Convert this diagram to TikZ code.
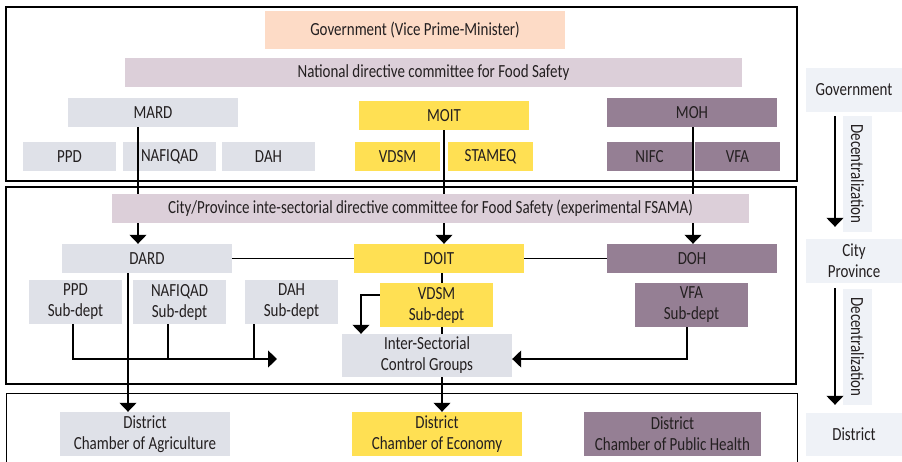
\documentclass[tikz,border=0pt]{standalone}
\usepackage{fontspec}
\setmainfont[FakeStretch=0.81]{Carlito}
\usetikzlibrary{arrows.meta}
\definecolor{peach}{HTML}{FDDBC6}
\definecolor{lav}{HTML}{DCCFD9}
\definecolor{grey}{HTML}{DFE1E8}
\definecolor{yel}{HTML}{FFE053}
\definecolor{mauve}{HTML}{957F94}
\definecolor{light}{HTML}{EFF2F7}
\definecolor{txt}{HTML}{231F20}
\newcommand\mkbox[7]{\node[box,fill=#6,minimum width={(#4-#2)*1pt},minimum height={(#5-#3)*1pt}] (#1) at ({(#2+#4)/2},{(#3+#5)/2}) {#7};}
\begin{document}
\begin{tikzpicture}[x=1pt,y=-1pt,
  box/.style={inner sep=0pt, align=center, text=txt, font=\fontsize{18.5}{21}\selectfont},
  conn/.style={line width=1.2pt, draw=black},
  arr/.style={conn, -{Triangle[width=17pt,length=9pt]}},
  frame/.style={line width=2.5pt, draw=black}]
\useasboundingbox (0,0) rectangle (902,461);
% frames
\draw[frame] (6,7) rectangle (797,181);
\draw[frame] (6,187) rectangle (796,384);
\draw[line width=1pt] (6,465) -- (6,393) -- (797,393) -- (797,465);
% national level
\mkbox{gov}{265}{11}{565}{49}{peach}{Government (Vice Prime-Minister)}
\mkbox{nat}{125}{58}{742}{87}{lav}{National directive committee for Food Safety}
\mkbox{mard}{68}{98}{238}{127}{grey}{MARD}
\mkbox{moit}{359}{101}{529}{130}{yel}{MOIT}
\mkbox{moh}{607}{98}{777}{127}{mauve}{MOH}
\mkbox{ppd}{23}{142}{116}{171}{grey}{PPD}
\mkbox{naf}{123}{142}{216}{171}{grey}{NAFIQAD}
\mkbox{dah}{222}{142}{315}{171}{grey}{DAH}
\mkbox{vdsm}{355}{142}{440}{171}{yel}{VDSM}
\mkbox{stameq}{448}{142}{533}{171}{yel}{STAMEQ}
\mkbox{nifc}{607}{142}{692}{171}{mauve}{NIFC}
\mkbox{vfa}{695}{142}{780}{171}{mauve}{VFA}
% city level
\mkbox{city}{112}{194}{749}{223}{lav}{City/Province inte-sectorial directive committee for Food Safety (experimental FSAMA)}
\mkbox{dard}{62}{244}{232}{273}{grey}{DARD}
\mkbox{doit}{354}{244}{524}{273}{yel}{DOIT}
\mkbox{doh}{607}{244}{777}{273}{mauve}{DOH}
\mkbox{ppds}{29}{280}{122}{324}{grey}{PPD\\Sub-dept}
\mkbox{nafs}{133}{280}{226}{324}{grey}{NAFIQAD\\Sub-dept}
\mkbox{dahs}{245}{280}{338}{324}{grey}{DAH\\Sub-dept}
\mkbox{vdsms}{380}{283}{493}{327}{yel}{VDSM\\Sub-dept}
\mkbox{vfas}{635}{283}{748}{327}{mauve}{VFA\\Sub-dept}
\mkbox{inter}{342}{334}{512}{377}{grey}{Inter-Sectorial\\Control Groups}
% district level
\mkbox{dagri}{60}{412}{230}{456}{grey}{District\\Chamber of Agriculture}
\mkbox{decon}{352}{412}{522}{456}{yel}{District\\Chamber of Economy}
\mkbox{dhealth}{584}{412}{761}{456}{mauve}{District\\Chamber of Public Health}
% right column
\mkbox{rgov}{806}{68}{902}{112}{light}{Government}
\mkbox{rcity}{806}{239}{902}{283}{light}{City\\Province}
\mkbox{rdist}{806}{413}{902}{456}{light}{District}
\node[box,fill=light,minimum width=116pt,minimum height=29pt,rotate=-90] (lab1) at (857.5,174) {Decentralization};
\node[box,fill=light,minimum width=116pt,minimum height=29pt,rotate=-90] (lab2) at (857.5,347) {Decentralization};
% connectors national -> city
\draw[conn] (mard.south -| 138,0) -- (city.north -| 138,0);
\draw[arr] (city.south -| 138,0) -- (dard.north -| 138,0);
\draw[conn] (moit.south -| 444,0) -- (city.north -| 444,0);
\draw[arr] (city.south -| 444,0) -- (doit.north -| 444,0);
\draw[conn] (moh.south -| 693,0) -- (city.north -| 693,0);
\draw[arr] (city.south -| 693,0) -- (doh.north -| 693,0);
\draw[conn] (dard) -- (doit);
\draw[conn] (doit) -- (doh);
% city -> district
\draw[arr] (dard.south -| 128,0) -- (dagri.north -| 128,0);
\draw[conn] (doit.south -| 442,0) -- (vdsms.north -| 442,0);
\draw[conn] (vdsms.south -| 442,0) -- (inter.north -| 442,0);
\draw[arr] (inter.south -| 442,0) -- (decon.north -| 442,0);
% sub-dept connectors
\coordinate (subend) at (277,359);
\draw[arr] (ppds.south -| 73,0) |- (subend);
\draw[conn] (nafs.south -| 168,0) -- (subend -| 168,0);
\draw[conn] (dahs.south -| 254,0) -- (subend -| 254,0);
\draw[arr] (vdsms.west |- 0,295) -| (inter.north -| 361,0);
\draw[arr] (vfas.south -| 687,0) |- (inter.east |- 0,359);
% right column arrows
\draw[arr, shorten <=4pt, shorten >=12pt] (rgov.south -| 835,0) -- (rcity.north -| 835,0);
\draw[arr, shorten <=5pt, shorten >=8pt] (rcity.south -| 835,0) -- (rdist.north -| 835,0);
\end{tikzpicture}
\end{document}
